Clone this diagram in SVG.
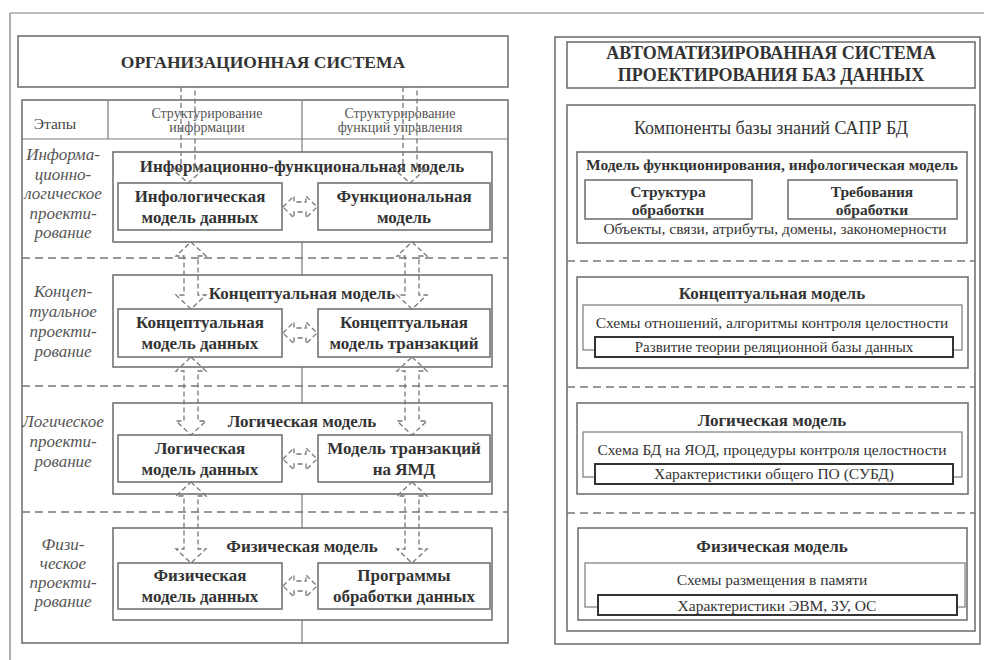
<svg xmlns="http://www.w3.org/2000/svg" width="984" height="660" viewBox="0 0 984 660" font-family="Liberation Serif, Times New Roman, DejaVu Serif, serif">
<style>
text{font-family:'Liberation Serif','Times New Roman','DejaVu Serif',serif;fill:#333;text-anchor:middle}
.b{font-weight:bold}
.box{fill:#fff;stroke:#6a6a6a;stroke-width:1.5}
.thin{fill:none;stroke:#7a7a7a;stroke-width:1.2}
.dk{fill:#fff;stroke:#333;stroke-width:2}
.sep{fill:none;stroke:#777;stroke-width:1.5;stroke-dasharray:8 5}
.arr{fill:none;stroke:#777;stroke-width:1.3;stroke-dasharray:5 3}
.it{font-style:italic;fill:#555;font-size:17px}
.hd{font-size:14px;fill:#555}
.t17{font-size:17px}
.t15{font-size:15px}
.t155{font-size:15.5px}
</style>
<rect width="984" height="660" fill="#fff"/>
<g id="frame">
<path d="M10 13 H984 M10 13 V660" class="thin" stroke-width="1.5"/>
</g>

<g id="org-title">
<rect x="18" y="36" width="490" height="51" class="box"/>
<text x="263" y="68" class="b" style="font-size:17.5px">ОРГАНИЗАЦИОННАЯ СИСТЕМА</text>
</g>
<g id="table">
<rect x="22" y="100" width="486" height="543" class="box"/>
<path d="M22 139 H508 M108 100 V139 M302 100 V643" class="thin"/>
<text x="55" y="129" style="font-size:15.5px;fill:#444">Этапы</text>
<text x="207" y="118" class="hd">Структурирование</text>
<text x="207" y="132" class="hd">информации</text>
<text x="400" y="118" class="hd">Структурирование</text>
<text x="400" y="132" class="hd">функций управления</text>
<path d="M22 258 H508 M22 386 H508 M22 512 H508" class="sep"/>
</g>
<g id="stage1-label">
<text x="63" y="160" class="it">Информа-</text>
<text x="63" y="179.5" class="it">ционно-</text>
<text x="63" y="199" class="it">логическое</text>
<text x="63" y="218.5" class="it">проекти-</text>
<text x="63" y="238" class="it">рование</text>
</g>
<g id="stage2-label">
<text x="63" y="297" class="it">Концеп-</text>
<text x="63" y="317" class="it">туальное</text>
<text x="63" y="337" class="it">проекти-</text>
<text x="63" y="357" class="it">рование</text>
</g>
<g id="stage3-label">
<text x="63" y="427" class="it">Логическое</text>
<text x="63" y="447" class="it">проекти-</text>
<text x="63" y="467" class="it">рование</text>
</g>
<g id="stage4-label">
<text x="63" y="550" class="it">Физи-</text>
<text x="63" y="569" class="it">ческое</text>
<text x="63" y="588" class="it">проекти-</text>
<text x="63" y="607" class="it">рование</text>
</g>

<g id="ifm">
<rect x="113" y="152" width="379" height="90" class="box"/>
<text x="302" y="172" class="b t17">Информационно-функциональная модель</text>
</g>
<g id="infolog">
<rect x="118" y="183" width="164" height="47" class="box"/>
<text x="200" y="202" class="b t17">Инфологическая</text>
<text x="200" y="223" class="b t17">модель данных</text>
</g>
<g id="funcmodel">
<rect x="318" y="183" width="172" height="47" class="box"/>
<text x="404" y="202" class="b t17">Функциональная</text>
<text x="404" y="223" class="b t17">модель</text>
</g>

<g id="conc">
<rect x="113" y="275" width="379" height="92" class="box"/>
<text x="302" y="299" class="b t17">Концептуальная модель</text>
</g>
<g id="conc-data">
<rect x="118" y="309" width="164" height="48" class="box"/>
<text x="200" y="328" class="b t17">Концептуальная</text>
<text x="200" y="349" class="b t17">модель данных</text>
</g>
<g id="conc-trans">
<rect x="318" y="309" width="172" height="48" class="box"/>
<text x="404" y="328" class="b t17">Концептуальная</text>
<text x="404" y="349" class="b t17">модель транзакций</text>
</g>

<g id="logic">
<rect x="113" y="403" width="379" height="91" class="box"/>
<text x="302" y="427" class="b t17">Логическая модель</text>
</g>
<g id="logic-data">
<rect x="118" y="435" width="164" height="47" class="box"/>
<text x="200" y="454" class="b t17">Логическая</text>
<text x="200" y="475" class="b t17">модель данных</text>
</g>
<g id="logic-trans">
<rect x="318" y="435" width="172" height="47" class="box"/>
<text x="404" y="454" class="b t17">Модель транзакций</text>
<text x="404" y="475" class="b t17">на ЯМД</text>
</g>

<g id="phys">
<rect x="113" y="528" width="379" height="92" class="box"/>
<text x="302" y="552" class="b t17">Физическая модель</text>
</g>
<g id="phys-data">
<rect x="118" y="563" width="164" height="46" class="box"/>
<text x="200" y="581" class="b t17">Физическая</text>
<text x="200" y="602" class="b t17">модель данных</text>
</g>
<g id="phys-prog">
<rect x="318" y="563" width="172" height="46" class="box"/>
<text x="404" y="581" class="b t17">Программы</text>
<text x="404" y="602" class="b t17">обработки данных</text>
</g>

<g id="connectors">
<path d="M181 87 V169 H172 L188 183 L204 169 H195 V87" class="arr"/>
<path d="M403 87 V169 H394 L410 183 L426 169 H417 V87" class="arr"/>
<path d="M191 242 L206 256 H198 V295 H206 L191 309 L176 295 H184 V256 H176 Z" class="arr"/>
<path d="M412 242 L427 256 H419 V295 H427 L412 309 L397 295 H405 V256 H397 Z" class="arr"/>
<path d="M191 357 L206 371 H198 V421 H206 L191 435 L176 421 H184 V371 H176 Z" class="arr"/>
<path d="M412 357 L427 371 H419 V421 H427 L412 435 L397 421 H405 V371 H397 Z" class="arr"/>
<path d="M191 482 L206 496 H198 V549 H206 L191 563 L176 549 H184 V496 H176 Z" class="arr"/>
<path d="M412 482 L427 496 H419 V549 H427 L412 563 L397 549 H405 V496 H397 Z" class="arr"/>
<path d="M283 207 L294 196 V202 H306 V196 L317 207 L306 218 V212 H294 V218 Z" class="arr"/>
<path d="M283 333 L294 322 V328 H306 V322 L317 333 L306 344 V338 H294 V344 Z" class="arr"/>
<path d="M283 459 L294 448 V454 H306 V448 L317 459 L306 470 V464 H294 V470 Z" class="arr"/>
<path d="M283 586 L294 575 V581 H306 V575 L317 586 L306 597 V591 H294 V597 Z" class="arr"/>
</g>

<g id="right-panel">
<rect x="555" y="37" width="425" height="607" class="box"/>
</g>
<g id="asp-title">
<rect x="567" y="42" width="408" height="46" class="box"/>
<text x="771" y="59" class="b" style="font-size:18px">АВТОМАТИЗИРОВАННАЯ СИСТЕМА</text>
<text x="771" y="81" class="b" style="font-size:18px">ПРОЕКТИРОВАНИЯ БАЗ ДАННЫХ</text>
</g>
<g id="kb">
<rect x="567" y="105" width="408" height="526" class="box"/>
<text x="771" y="134" style="font-size:18px">Компоненты базы знаний САПР БД</text>
<path d="M567 261 H975 M567 387 H975 M567 513 H975" class="sep"/>
</g>
<g id="kb-func">
<rect x="577" y="152" width="390" height="91" class="box"/>
<text x="772" y="170" class="b" style="font-size:15.5px">Модель функционирования, инфологическая модель</text>
<text x="775" y="234" class="t155">Объекты, связи, атрибуты, домены, закономерности</text>
</g>
<g id="kb-struct">
<rect x="585" y="180" width="167" height="39" class="box"/>
<text x="668" y="197" class="b t155">Структура</text>
<text x="668" y="215" class="b t155">обработки</text>
</g>
<g id="kb-req">
<rect x="788" y="180" width="169" height="39" class="box"/>
<text x="872" y="197" class="b t155">Требования</text>
<text x="872" y="215" class="b t155">обработки</text>
</g>

<g id="kb-conc">
<rect x="577" y="277" width="391" height="91" class="box"/>
<text x="772" y="299" class="b t17">Концептуальная модель</text>
<rect x="583" y="305" width="379" height="45" class="thin" fill="#fff"/>
<text x="772" y="328" class="t155">Схемы отношений, алгоритмы контроля целостности</text>
<rect x="595" y="337" width="358" height="20" class="dk"/>
<text x="774" y="352" class="t15">Развитие теории реляционной базы данных</text>
</g>

<g id="kb-logic">
<rect x="577" y="403" width="391" height="91" class="box"/>
<text x="772" y="426" class="b t17">Логическая модель</text>
<rect x="583" y="432" width="379" height="45" class="thin" fill="#fff"/>
<text x="772" y="455" class="t155">Схема БД на ЯОД, процедуры контроля целостности</text>
<rect x="595" y="464" width="358" height="20" class="dk"/>
<text x="774" y="479" class="t155">Характеристики общего ПО (СУБД)</text>
</g>

<g id="kb-phys">
<rect x="578" y="528" width="389" height="92" class="box"/>
<text x="772" y="552" class="b t17">Физическая модель</text>
<rect x="585" y="563" width="380" height="44" class="thin" fill="#fff"/>
<text x="772" y="585" class="t155">Схемы размещения в памяти</text>
<rect x="598" y="595" width="359" height="20" class="dk"/>
<text x="777" y="611" class="t155">Характеристики ЭВМ, ЗУ, ОС</text>
</g>
</svg>
